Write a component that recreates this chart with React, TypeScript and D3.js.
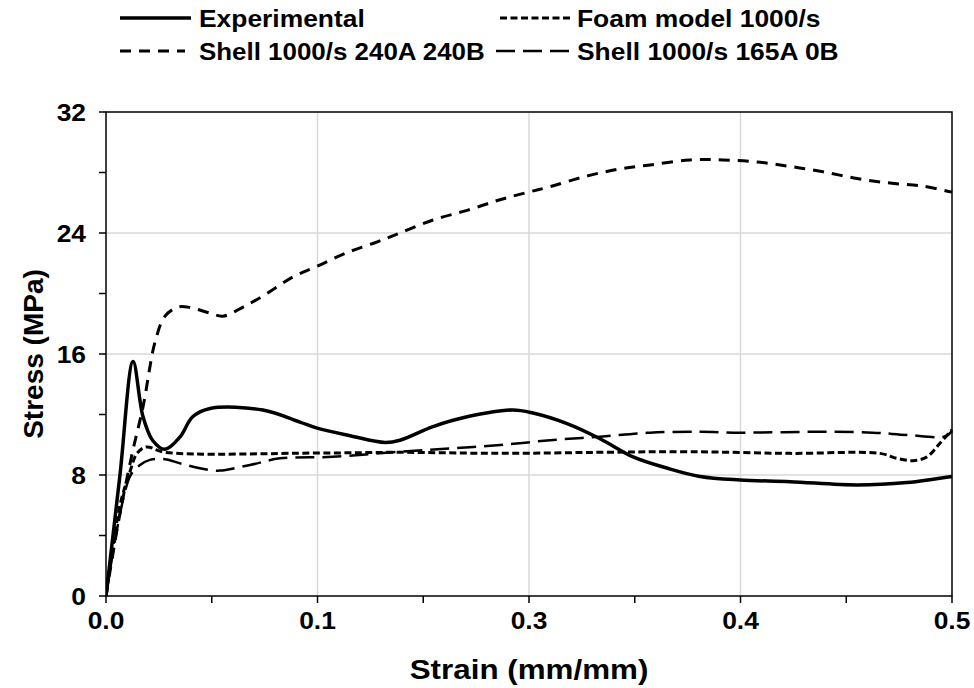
import React from "react";
import * as d3 from "d3";

// Strain positions along the axis (axis units: one gridline every 0.1)
const expStrain = [0, 0.0066, 0.0128, 0.0175, 0.022, 0.0279, 0.0349, 0.0410, 0.0492, 0.0742, 0.0917, 0.0998, 0.1154, 0.132, 0.139, 0.1546, 0.1707, 0.1924, 0.2019, 0.218, 0.2336, 0.2492, 0.2652, 0.2809, 0.2998, 0.3234, 0.3551, 0.3787, 0.4];
const expStress = [0, 8.0, 15.5, 11.85, 10.3, 9.7, 10.5, 11.85, 12.4, 12.3, 11.5, 11.1, 10.6, 10.15, 10.3, 11.2, 11.85, 12.3, 12.1, 11.4, 10.4, 9.2, 8.46, 7.9, 7.67, 7.56, 7.34, 7.5, 7.9];

const foamStrain = [0, 0.0066, 0.0113, 0.0145, 0.0189, 0.0279, 0.0998, 0.139, 0.1863, 0.2336, 0.2761, 0.3234, 0.3659, 0.374, 0.3816, 0.3882, 0.3943, 0.4];
const foamStress = [0, 6.0, 8.2, 9.4, 9.85, 9.5, 9.45, 9.5, 9.43, 9.5, 9.54, 9.43, 9.43, 9.1, 8.95, 9.2, 10.1, 11.0];

const shellAStrain = [0, 0.006, 0.0125, 0.0175, 0.0232, 0.0279, 0.034, 0.0388, 0.0492, 0.0553, 0.0648, 0.0761, 0.0884, 0.0998, 0.1139, 0.128, 0.139, 0.1546, 0.1707, 0.1863, 0.1996, 0.2099, 0.2255, 0.2416, 0.2572, 0.2761, 0.2917, 0.3078, 0.3234, 0.339, 0.3551, 0.3707, 0.3863, 0.4];
const shellAStress = [0, 5.0, 9.5, 12.5, 16.8, 18.5, 19.1, 19.1, 18.7, 18.5, 19.1, 20.0, 21.1, 21.8, 22.7, 23.4, 24.0, 24.86, 25.5, 26.2, 26.7, 27.06, 27.7, 28.2, 28.5, 28.83, 28.83, 28.7, 28.4, 28.05, 27.6, 27.3, 27.1, 26.7];

const shellBStrain = [0, 0.0113, 0.0161, 0.0208, 0.0279, 0.035, 0.0444, 0.0515, 0.0539, 0.0681, 0.0823, 0.1073, 0.139, 0.1627, 0.1863, 0.21, 0.2336, 0.2572, 0.2809, 0.2998, 0.3390, 0.3626, 0.3787, 0.3967, 0.4];
const shellBStress = [0, 7.9, 8.66, 9.0, 9.04, 8.77, 8.44, 8.29, 8.29, 8.66, 9.1, 9.2, 9.54, 9.75, 9.98, 10.3, 10.53, 10.8, 10.86, 10.8, 10.86, 10.8, 10.65, 10.55, 10.9];

const yTicks = [0, 8, 16, 24, 32];
const yMinorTicks = [4, 12, 20, 28];
const xTickValues = [0, 0.1, 0.2, 0.3, 0.4];
const xTickLabels = ["0.0", "0.1", "0.3", "0.4", "0.5"];
const xMinorTicks = [0.05, 0.15, 0.25, 0.35];

const seriesNames = ["Experimental", "Foam model 1000/s", "Shell 1000/s 240A 240B", "Shell 1000/s 165A 0B"];

const W = 974;
const H = 688;
const left = 106, right = 952, top = 112, bottom = 596;
const FONT = "'Liberation Sans', Arial, sans-serif";
const STRETCH = 1.1; // wide-set lettering

const styles = [
  { width: 3.5, dash: "none" },
  { width: 3, dash: "7,3.5" },
  { width: 3, dash: "11,8" },
  { width: 2.5, dash: "19,8" },
];

function WideText(props: { x: number; y: number; size: number; anchor?: string; dy?: string; sx?: number; children: React.ReactNode }) {
  const { x, y, size, anchor = "start", dy, sx = STRETCH, children } = props;
  return (
    <text
      transform={`translate(${x},${y}) scale(${sx},1)`}
      textAnchor={anchor}
      dy={dy}
      fontSize={size}
      fontWeight="bold"
    >
      {children}
    </text>
  );
}

export default function App() {
  const x = d3.scaleLinear().domain([0, 0.4]).range([left, right]);
  const y = d3.scaleLinear().domain([0, 32]).range([bottom, top]);

  const line = d3
    .line<[number, number]>()
    .x((d) => x(d[0]))
    .y((d) => y(d[1]))
    .curve(d3.curveCatmullRom.alpha(0.5));

  const zip = (a: number[], b: number[]) => a.map((v, i) => [v, b[i]] as [number, number]);
  const series = [
    zip(expStrain, expStress),
    zip(foamStrain, foamStress),
    zip(shellAStrain, shellAStress),
    zip(shellBStrain, shellBStress),
  ];

  const legendItems = [
    { lx: 120, lx2: 191, tx: 199, ty: 18, sx: 1.1 },
    { lx: 500, lx2: 572, tx: 577, ty: 18, sx: 1.1 },
    { lx: 120, lx2: 185, tx: 199, ty: 51, sx: 1.08 },
    { lx: 496, lx2: 572, tx: 577, ty: 51, sx: 1.1 },
  ];

  return (
    <svg width={W} height={H} style={{ position: "absolute", left: 0, top: 0, background: "#fff" }} fontFamily={FONT}>
      <defs>
        <clipPath id="plotClip">
          <rect x={left} y={top - 2} width={right - left + 2} height={bottom - top + 4} />
        </clipPath>
      </defs>
      <rect width={W} height={H} fill="#fff" />
      {/* gridlines */}
      {yTicks.slice(1, -1).map((t) => (
        <line key={"gy" + t} x1={left} x2={right} y1={y(t)} y2={y(t)} stroke="#d9d9d9" strokeWidth={1.5} />
      ))}
      {xTickValues.slice(1, -1).map((t) => (
        <line key={"gx" + t} x1={x(t)} x2={x(t)} y1={top} y2={bottom} stroke="#d9d9d9" strokeWidth={1.5} />
      ))}
      {/* frame */}
      <rect x={left} y={top} width={right - left} height={bottom - top} fill="none" stroke="#000" strokeWidth={1.5} />
      {/* y ticks */}
      {[...yTicks, ...yMinorTicks].map((t) => (
        <line key={"ty" + t} x1={left - 7} x2={left} y1={y(t)} y2={y(t)} stroke="#000" strokeWidth={1.5} />
      ))}
      {yTicks.map((t) => (
        <WideText key={"ly" + t} x={86} y={y(t)} dy="0.36em" anchor="end" size={24}>
          {t}
        </WideText>
      ))}
      {/* x ticks */}
      {[...xTickValues, ...xMinorTicks].map((t) => (
        <line key={"tx" + t} x1={x(t)} x2={x(t)} y1={bottom} y2={bottom + 7} stroke="#000" strokeWidth={1.5} />
      ))}
      {xTickValues.map((t, i) => (
        <WideText key={"lx" + t} x={x(t)} y={629} anchor="middle" size={24}>
          {xTickLabels[i]}
        </WideText>
      ))}
      {/* axis titles */}
      <WideText x={(left + right) / 2} y={679} anchor="middle" size={28} sx={1.12}>
        Strain (mm/mm)
      </WideText>
      <text transform={`translate(43, ${(top + bottom) / 2}) rotate(-90)`} textAnchor="middle" fontSize={28} fontWeight="bold">
        Stress (MPa)
      </text>
      {/* series */}
      <g clipPath="url(#plotClip)">
        {series.map((s, i) => (
          <path
            key={"s" + i}
            d={line(s) || ""}
            fill="none"
            stroke="#000"
            strokeWidth={styles[i].width}
            strokeDasharray={styles[i].dash}
            strokeLinejoin="round"
          />
        ))}
      </g>
      {/* legend */}
      {legendItems.map((it, i) => (
        <g key={"lg" + i}>
          <line x1={it.lx} x2={it.lx2} y1={it.ty} y2={it.ty} stroke="#000" strokeWidth={styles[i].width} strokeDasharray={styles[i].dash} />
          <WideText x={it.tx} y={it.ty} dy="0.36em" size={24} sx={it.sx}>
            {seriesNames[i]}
          </WideText>
        </g>
      ))}
    </svg>
  );
}
